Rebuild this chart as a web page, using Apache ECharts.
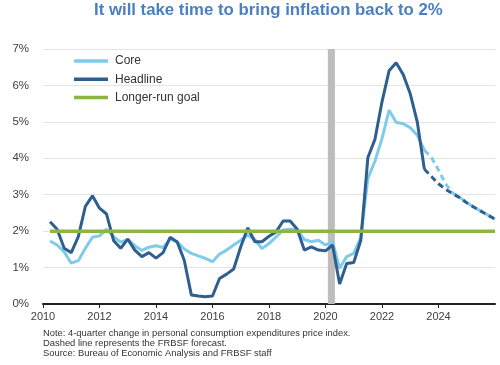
<!DOCTYPE html>
<html>
<head>
<meta charset="utf-8">
<script src="https://cdn.jsdelivr.net/npm/echarts@6/dist/echarts.min.js"></script>
<style>
html,body{margin:0;padding:0;background:#fff;}
#chart{width:500px;height:365px;}
</style>
</head>
<body>
<div id="chart"></div>
<script>
// Quarters of actual data (2010Q1 - 2023Q2)
const actualQuarters = [
 '2010Q1','2010Q2','2010Q3','2010Q4','2011Q1','2011Q2','2011Q3','2011Q4',
 '2012Q1','2012Q2','2012Q3','2012Q4','2013Q1','2013Q2','2013Q3','2013Q4',
 '2014Q1','2014Q2','2014Q3','2014Q4','2015Q1','2015Q2','2015Q3','2015Q4',
 '2016Q1','2016Q2','2016Q3','2016Q4','2017Q1','2017Q2','2017Q3','2017Q4',
 '2018Q1','2018Q2','2018Q3','2018Q4','2019Q1','2019Q2','2019Q3','2019Q4',
 '2020Q1','2020Q2','2020Q3','2020Q4','2021Q1','2021Q2','2021Q3','2021Q4',
 '2022Q1','2022Q2','2022Q3','2022Q4','2023Q1','2023Q2'
];
const headlineActual = [2.26,2.05,1.53,1.41,1.85,2.68,2.97,2.63,2.47,1.74,1.53,1.78,1.48,1.30,1.41,1.26,
 1.41,1.83,1.70,1.20,0.25,0.22,0.20,0.22,0.70,0.82,0.96,1.57,2.09,1.71,1.71,1.86,
 1.98,2.28,2.28,2.05,1.48,1.57,1.48,1.46,1.62,0.55,1.11,1.14,1.75,4.02,4.52,5.55,
 6.40,6.62,6.30,5.77,4.99,3.70];
const coreActual = [1.73,1.62,1.43,1.12,1.19,1.53,1.83,1.87,2.05,1.85,1.70,1.77,1.60,1.47,1.56,1.60,
 1.55,1.78,1.71,1.51,1.39,1.32,1.25,1.16,1.37,1.48,1.62,1.75,1.89,1.77,1.52,1.66,
 1.84,2.03,2.05,2.03,1.77,1.71,1.75,1.62,1.71,0.98,1.30,1.39,1.84,3.45,3.92,4.54,
 5.32,4.99,4.95,4.84,4.63,4.22];

// Forecast quarters (2023Q2 - 2025Q4)
const forecastQuarters = ['2023Q2','2023Q3','2023Q4','2024Q1','2024Q2','2024Q3','2024Q4','2025Q1','2025Q2','2025Q3','2025Q4'];
const headlineForecast = [3.70,3.50,3.30,3.15,3.03,2.92,2.78,2.66,2.55,2.44,2.33];
const coreForecast = [4.22,4.02,3.68,3.30,3.05,2.92,2.78,2.66,2.55,2.44,2.33];

const goalValue = 2;
const goalSpan = [2010.25, 2026];
const recession = [2020.083, 2020.333];

const yTicks = ['0%','1%','2%','3%','4%','5%','6%','7%'];
const xTicks = ['2010','2012','2014','2016','2018','2020','2022','2024'];

const title = 'It will take time to bring inflation back to 2%';
const notes = [
 'Note: 4-quarter change in personal consumption expenditures price index.',
 'Dashed line represents the FRBSF forecast.',
 'Source: Bureau of Economic Analysis and FRBSF staff'
];

function qx(q){ const y = parseInt(q.slice(0,4),10); const n = parseInt(q.slice(5),10); return y + n*0.25; }
function pairs(qs, vals){ return qs.map((q,i)=>[qx(q), vals[i]]); }

const FONT = '"Liberation Sans", Arial, sans-serif';
const C_CORE = '#7ecbea', C_HEAD = '#2e5f8f', C_GOAL = '#8db543';

const chart = echarts.init(document.getElementById('chart'), null, {renderer:'canvas'});
chart.setOption({
 animation:false,
 backgroundColor:'#fff',
 textStyle:{fontFamily:FONT},
 grid:{left:43, right:5, top:49, bottom:61},
 legend:{
  data:['Core','Headline','Longer-run goal'],
  orient:'vertical', left:74, top:54, padding:0,
  icon:'rect', itemWidth:34, itemHeight:3.5, itemGap:4.3,
  textStyle:{fontSize:12, color:'#333', fontFamily:FONT, lineHeight:14, padding:[0,0,0,2]},
  selectedMode:false
 },
 xAxis:{
  type:'value', min:2010, max:2026, interval:2,
  axisLine:{show:true, lineStyle:{color:'#222', width:2}},
  axisTick:{show:true, length:4, lineStyle:{color:'#222', width:1}},
  splitLine:{show:false},
  axisLabel:{showMaxLabel:false, fontSize:11, color:'#404040', margin:7, fontFamily:FONT,
   formatter:(v)=>{ const s=String(Math.round(v)); return xTicks.indexOf(s)>=0? s : ''; }}
 },
 yAxis:{
  type:'value', min:0, max:7, interval:1,
  axisLine:{show:false}, axisTick:{show:false},
  splitLine:{lineStyle:{color:'#e4e4e4', width:1}},
  axisLabel:{fontSize:11.5, color:'#404040', margin:14, fontFamily:FONT,
   formatter:(v)=>yTicks[Math.round(v)]}
 },
 series:[
  {name:'recession', type:'line', data:[], silent:true, z:1,
   markArea:{silent:true, itemStyle:{color:'#bdbdbd'}, data:[[{xAxis:recession[0]},{xAxis:recession[1]}]]}},
  {name:'Core', type:'line', data:pairs(actualQuarters, coreActual), showSymbol:false, z:3,
   itemStyle:{color:C_CORE}, lineStyle:{color:C_CORE, width:3}},
  {name:'Core forecast', type:'line', data:pairs(forecastQuarters, coreForecast), showSymbol:false, z:3,
   itemStyle:{color:C_CORE}, lineStyle:{color:C_CORE, width:3, type:[6,4]}},
  {name:'Headline', type:'line', data:pairs(actualQuarters, headlineActual), showSymbol:false, z:4,
   itemStyle:{color:C_HEAD}, lineStyle:{color:C_HEAD, width:3}},
  {name:'Headline forecast', type:'line', data:pairs(forecastQuarters, headlineForecast), showSymbol:false, z:4,
   itemStyle:{color:C_HEAD}, lineStyle:{color:C_HEAD, width:3, type:[6,4]}},
  {name:'Longer-run goal', type:'line', data:[[goalSpan[0],goalValue],[goalSpan[1],goalValue]], showSymbol:false, z:5,
   itemStyle:{color:C_GOAL}, lineStyle:{color:C_GOAL, width:3.5}}
 ],
 graphic:[
  {type:'text', left:94, top:2, style:{text:title, font:'bold 16.8px '+FONT, fill:'#4a7fc1'}},
  {type:'text', left:43, top:328.5, style:{text:notes.join('\n'), font:'9.4px '+FONT, fill:'#333', lineHeight:10}}
 ]
});
</script>
</body>
</html>
